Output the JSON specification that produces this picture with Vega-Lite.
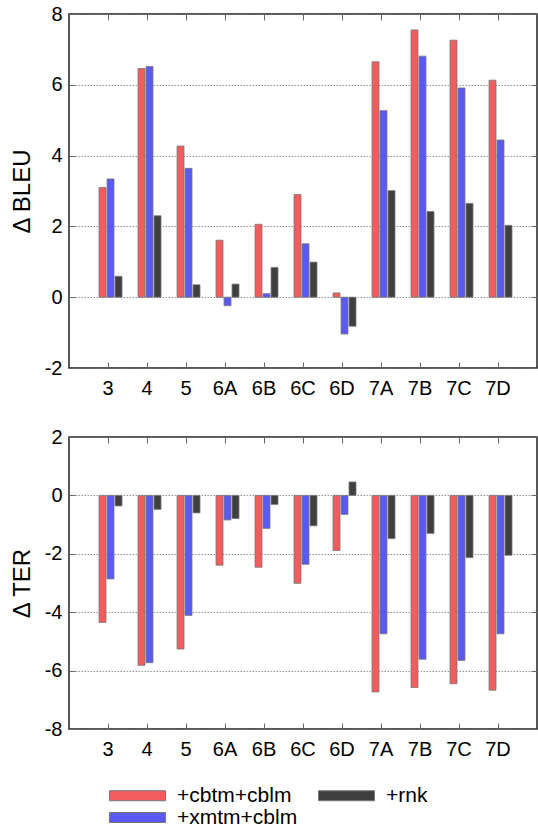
{
  "$schema": "https://vega.github.io/schema/vega-lite/v6.json",
  "padding": {"left": 9, "top": 3, "right": 0, "bottom": 0},
  "datasets": {
    "bleu": [
      {"cat":"3","sys":"+cbtm+cblm","val":3.10},{"cat":"3","sys":"+xmtm+cblm","val":3.34},{"cat":"3","sys":"+rnk","val":0.59},
      {"cat":"4","sys":"+cbtm+cblm","val":6.46},{"cat":"4","sys":"+xmtm+cblm","val":6.52},{"cat":"4","sys":"+rnk","val":2.30},
      {"cat":"5","sys":"+cbtm+cblm","val":4.27},{"cat":"5","sys":"+xmtm+cblm","val":3.64},{"cat":"5","sys":"+rnk","val":0.35},
      {"cat":"6A","sys":"+cbtm+cblm","val":1.61},{"cat":"6A","sys":"+xmtm+cblm","val":-0.24},{"cat":"6A","sys":"+rnk","val":0.37},
      {"cat":"6B","sys":"+cbtm+cblm","val":2.06},{"cat":"6B","sys":"+xmtm+cblm","val":0.10},{"cat":"6B","sys":"+rnk","val":0.84},
      {"cat":"6C","sys":"+cbtm+cblm","val":2.90},{"cat":"6C","sys":"+xmtm+cblm","val":1.51},{"cat":"6C","sys":"+rnk","val":0.99},
      {"cat":"6D","sys":"+cbtm+cblm","val":0.12},{"cat":"6D","sys":"+xmtm+cblm","val":-1.04},{"cat":"6D","sys":"+rnk","val":-0.82},
      {"cat":"7A","sys":"+cbtm+cblm","val":6.65},{"cat":"7A","sys":"+xmtm+cblm","val":5.27},{"cat":"7A","sys":"+rnk","val":3.01},
      {"cat":"7B","sys":"+cbtm+cblm","val":7.55},{"cat":"7B","sys":"+xmtm+cblm","val":6.81},{"cat":"7B","sys":"+rnk","val":2.42},
      {"cat":"7C","sys":"+cbtm+cblm","val":7.26},{"cat":"7C","sys":"+xmtm+cblm","val":5.91},{"cat":"7C","sys":"+rnk","val":2.65},
      {"cat":"7D","sys":"+cbtm+cblm","val":6.13},{"cat":"7D","sys":"+xmtm+cblm","val":4.44},{"cat":"7D","sys":"+rnk","val":2.03}
    ],
    "ter": [
      {"cat":"3","sys":"+cbtm+cblm","val":-4.35},{"cat":"3","sys":"+xmtm+cblm","val":-2.86},{"cat":"3","sys":"+rnk","val":-0.36},
      {"cat":"4","sys":"+cbtm+cblm","val":-5.82},{"cat":"4","sys":"+xmtm+cblm","val":-5.73},{"cat":"4","sys":"+rnk","val":-0.48},
      {"cat":"5","sys":"+cbtm+cblm","val":-5.26},{"cat":"5","sys":"+xmtm+cblm","val":-4.11},{"cat":"5","sys":"+rnk","val":-0.60},
      {"cat":"6A","sys":"+cbtm+cblm","val":-2.39},{"cat":"6A","sys":"+xmtm+cblm","val":-0.84},{"cat":"6A","sys":"+rnk","val":-0.79},
      {"cat":"6B","sys":"+cbtm+cblm","val":-2.46},{"cat":"6B","sys":"+xmtm+cblm","val":-1.13},{"cat":"6B","sys":"+rnk","val":-0.31},
      {"cat":"6C","sys":"+cbtm+cblm","val":-3.01},{"cat":"6C","sys":"+xmtm+cblm","val":-2.36},{"cat":"6C","sys":"+rnk","val":-1.04},
      {"cat":"6D","sys":"+cbtm+cblm","val":-1.89},{"cat":"6D","sys":"+xmtm+cblm","val":-0.65},{"cat":"6D","sys":"+rnk","val":0.46},
      {"cat":"7A","sys":"+cbtm+cblm","val":-6.73},{"cat":"7A","sys":"+xmtm+cblm","val":-4.74},{"cat":"7A","sys":"+rnk","val":-1.48},
      {"cat":"7B","sys":"+cbtm+cblm","val":-6.58},{"cat":"7B","sys":"+xmtm+cblm","val":-5.61},{"cat":"7B","sys":"+rnk","val":-1.30},
      {"cat":"7C","sys":"+cbtm+cblm","val":-6.45},{"cat":"7C","sys":"+xmtm+cblm","val":-5.65},{"cat":"7C","sys":"+rnk","val":-2.13},
      {"cat":"7D","sys":"+cbtm+cblm","val":-6.67},{"cat":"7D","sys":"+xmtm+cblm","val":-4.74},{"cat":"7D","sys":"+rnk","val":-2.05}
    ]
  },
  "config": {
    "font": "Liberation Sans",
    "view": {"stroke": "#222", "strokeWidth": 1.5},
    "axis": {
      "labelFont": "Liberation Sans", "labelFontSize": 20, "labelColor": "#000",
      "titleFont": "Liberation Sans", "titleFontSize": 24, "titleFontWeight": "normal", "titleColor": "#000",
      "domain": false, "tickColor": "#666", "tickWidth": 1, "tickSize": -6
    },
    "legend": {"labelFont": "Liberation Sans", "labelFontSize": 21, "labelColor": "#000"}
  },
  "spacing": 27,
  "vconcat": [
    {
      "width": 468, "height": 354,
      "data": {"name": "bleu"},
      "layer": [
        {
          "mark": {"type": "bar", "stroke": "#777", "strokeWidth": 0.8},
          "encoding": {
            "x": {"field": "cat", "type": "nominal", "sort": null,
                  "scale": {"domain": ["3","4","5","6A","6B","6C","6D","7A","7B","7C","7D"], "paddingInner": 0, "paddingOuter": 0.5},
                  "axis": {"title": null, "labelAngle": 0, "labelPadding": 16, "grid": false}},
            "xOffset": {"field": "sys", "type": "nominal",
                  "scale": {"domain": ["+cbtm+cblm","+xmtm+cblm","+rnk"], "paddingInner": 0.13, "paddingOuter": 1.17, "align": 0.657}},
            "y": {"field": "val", "type": "quantitative",
                  "scale": {"domain": [-2, 8], "nice": false, "zero": false},
                  "axis": {"title": "Δ BLEU", "values": [-2,0,2,4,6,8], "labelExpr": "'' + datum.value", "labelPadding": 13, "titlePadding": 10,
                           "grid": true, "gridColor": "#777", "gridDash": [1.5, 1.5], "gridWidth": 0.8}},
            "color": {"field": "sys", "type": "nominal",
                  "scale": {"domain": ["+cbtm+cblm","+xmtm+cblm","+rnk"], "range": ["#f25c5c","#5a5af2","#3f3f3f"]},
                  "legend": {"title": null, "orient": "none", "legendX": 30, "legendY": 771, "columns": 2, "direction": "vertical",
                             "symbolType": "M0,-1L11.2,-1L11.2,1L0,1Z", "symbolSize": 100,
                             "symbolStrokeColor": "#777", "symbolStrokeWidth": 1, "symbolOpacity": 1,
                             "labelOffset": 57, "columnPadding": 10, "rowPadding": 0}}
          }
        },
        {
          "mark": {"type": "bar", "opacity": 0},
          "encoding": {
            "x": {"field": "cat", "type": "nominal", "sort": null,
                  "axis": {"orient": "top", "title": null, "labels": false, "grid": false}},
            "xOffset": {"field": "sys", "type": "nominal"},
            "y": {"field": "val", "type": "quantitative",
                  "axis": {"orient": "right", "title": null, "labels": false, "grid": false, "values": [-2,0,2,4,6,8]}}
          }
        }
      ],
      "resolve": {"axis": {"x": "independent", "y": "independent"}}
    },
    {
      "width": 468, "height": 292,
      "data": {"name": "ter"},
      "layer": [
        {
          "mark": {"type": "bar", "stroke": "#777", "strokeWidth": 0.8},
          "encoding": {
            "x": {"field": "cat", "type": "nominal", "sort": null,
                  "scale": {"domain": ["3","4","5","6A","6B","6C","6D","7A","7B","7C","7D"], "paddingInner": 0, "paddingOuter": 0.5},
                  "axis": {"title": null, "labelAngle": 0, "labelPadding": 16, "grid": false}},
            "xOffset": {"field": "sys", "type": "nominal",
                  "scale": {"domain": ["+cbtm+cblm","+xmtm+cblm","+rnk"], "paddingInner": 0.13, "paddingOuter": 1.17, "align": 0.657}},
            "y": {"field": "val", "type": "quantitative",
                  "scale": {"domain": [-8, 2], "nice": false, "zero": false},
                  "axis": {"title": "Δ TER", "values": [-8,-6,-4,-2,0,2], "labelExpr": "'' + datum.value", "labelPadding": 13, "titlePadding": 10,
                           "grid": true, "gridColor": "#777", "gridDash": [1.5, 1.5], "gridWidth": 0.8}},
            "color": {"field": "sys", "type": "nominal",
                  "scale": {"domain": ["+cbtm+cblm","+xmtm+cblm","+rnk"], "range": ["#f25c5c","#5a5af2","#3f3f3f"]}}
          }
        },
        {
          "mark": {"type": "bar", "opacity": 0},
          "encoding": {
            "x": {"field": "cat", "type": "nominal", "sort": null,
                  "axis": {"orient": "top", "title": null, "labels": false, "grid": false}},
            "xOffset": {"field": "sys", "type": "nominal"},
            "y": {"field": "val", "type": "quantitative",
                  "axis": {"orient": "right", "title": null, "labels": false, "grid": false, "values": [-8,-6,-4,-2,0,2]}}
          }
        }
      ],
      "resolve": {"axis": {"x": "independent", "y": "independent"}}
    }
  ]
}
